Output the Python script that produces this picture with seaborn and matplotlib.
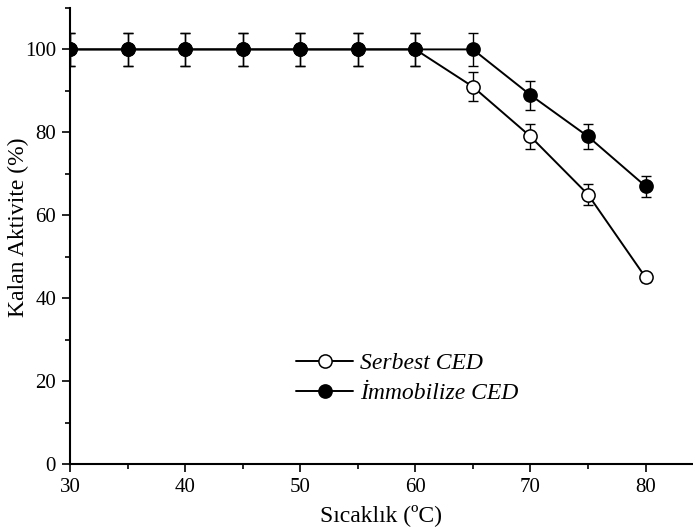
import numpy as np
import pandas as pd
import matplotlib
matplotlib.use("Agg")
import matplotlib.pyplot as plt
import seaborn as sns
from matplotlib.ticker import MultipleLocator

# Data
temps = [30, 35, 40, 45, 50, 55, 60, 65, 70, 75, 80]
serbest = [100, 100, 100, 100, 100, 100, 100, 91, 79, 65, 45]
serbest_err = [4, 4, 4, 4, 4, 4, 4, 3.5, 3, 2.5, 1]
immob = [100, 100, 100, 100, 100, 100, 100, 100, 89, 79, 67]
immob_err = [4, 4, 4, 4, 4, 4, 4, 4, 3.5, 3, 2.5]

df = pd.DataFrame({
    "temp": temps * 2,
    "activity": serbest + immob,
    "err": serbest_err + immob_err,
    "group": ["Serbest CED"] * len(temps) + ["İmmobilize CED"] * len(temps),
})

sns.set_style("ticks")
plt.rcParams["font.family"] = ["Liberation Serif", "DejaVu Serif"]
plt.rcParams["text.color"] = "black"
plt.rcParams["axes.labelcolor"] = "black"

fig = plt.figure(figsize=(6.93, 5.30), dpi=100)
ax = fig.add_axes([0.101, 0.1245, 0.897, 0.8605])

styles = {"Serbest CED": "white", "İmmobilize CED": "black"}
for i, (name, face) in enumerate(styles.items()):
    sub = df[df["group"] == name]
    ax.errorbar(sub["temp"], sub["activity"], yerr=sub["err"], fmt="none",
                ecolor="black", elinewidth=1, capsize=3.8, capthick=1, zorder=2 + 2 * i)
    sns.lineplot(data=sub, x="temp", y="activity", ax=ax, color="black",
                 linewidth=1.4, marker="o", markersize=9.5, markerfacecolor=face,
                 markeredgecolor="black", markeredgewidth=1.1, label=name,
                 zorder=3 + 2 * i)

ax.set_xlim(30, 84)
ax.set_ylim(0, 110)
ax.xaxis.set_major_locator(MultipleLocator(10))
ax.xaxis.set_minor_locator(MultipleLocator(5))
ax.yaxis.set_major_locator(MultipleLocator(20))
ax.yaxis.set_minor_locator(MultipleLocator(10))
ax.tick_params(which="major", direction="out", length=6, width=1.2, labelsize=15,
               colors="black", pad=4)
ax.tick_params(which="minor", direction="out", length=3.5, width=1.2, colors="black")
sns.despine(ax=ax)
for s in ["left", "bottom"]:
    ax.spines[s].set_linewidth(1.5)
    ax.spines[s].set_color("black")

ax.set_xlabel("Sıcaklık (ºC)", fontsize=17, labelpad=5)
ax.set_ylabel("Kalan Aktivite (%)", fontsize=17)
ax.yaxis.set_label_coords(-0.066, 0.52)

leg = ax.legend(loc="lower left", bbox_to_anchor=(0.33, 0.085), frameon=False,
                prop={"style": "italic", "size": 17}, handlelength=2.4,
                handletextpad=0.3, labelspacing=0.35)
for t in leg.get_texts():
    t.set_color("black")

fig.savefig("out.png", dpi=100)
